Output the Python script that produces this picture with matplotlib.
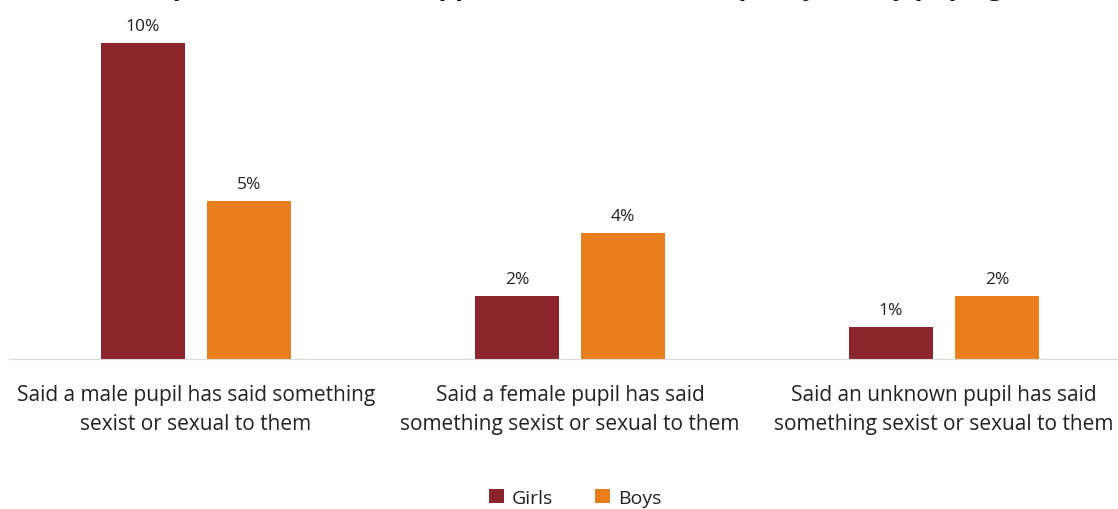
import numpy as np
import matplotlib.pyplot as plt

plt.rcParams['font.family'] = ['Open Sans', 'DejaVu Sans']

# data
categories = ["Said a male pupil has said something\nsexist or sexual to them",
              "Said a female pupil has said\nsomething sexist or sexual to them",
              "Said an unknown pupil has said\nsomething sexist or sexual to them"]
girls = [10, 2, 1]
boys = [5, 4, 2]
series_names = ["Girls", "Boys"]
colors = ["#8B252B", "#E97E1E"]

W, H = 1118, 510
fig = plt.figure(figsize=(W / 100, H / 100), dpi=100)
ax = fig.add_axes([9 / W, (H - 360) / H, 1122 / W, 347.6 / H])

x = np.arange(len(categories))
width = 0.225
offset = 0.142
for vals, name, col, off in zip([girls, boys], series_names, colors, [-offset, offset]):
    bars = ax.bar(x + off, vals, width, color=col, label=name)
    for b, v in zip(bars, vals):
        ax.annotate(f"{v}%", (b.get_x() + b.get_width() / 2, v), xytext=(0, 6.5),
                    textcoords="offset points", ha="center", va="bottom",
                    fontsize=12.5, color="#222222")

ax.set_xlim(-0.5, 2.5)
ax.set_ylim(0, 11)
ax.set_xticks(x)
ax.set_xticklabels(categories, fontsize=15, color="#222222", linespacing=1.5)
ax.tick_params(axis="x", length=0, pad=18)
ax.set_yticks([])
for s in ["top", "right", "left"]:
    ax.spines[s].set_visible(False)
ax.spines["bottom"].set_color("#D9D9D9")

# title, mostly cut off at the top of the image
fig.text(1088 / W, 1 + 5.5 / H, "Pupils who said this happened to them in the past year (by pupil gender)",
         ha="right", va="baseline", fontsize=19, fontweight="bold", color="#111111")

leg = fig.legend(loc="center", bbox_to_anchor=(575 / W, 1 - 499 / H), ncol=2, frameon=False,
                 fontsize=14, handlelength=0.75, handleheight=0.75, handletextpad=0.4,
                 columnspacing=2.2)
for t in leg.get_texts():
    t.set_color("#222222")

fig.savefig("out.png", dpi=100)
